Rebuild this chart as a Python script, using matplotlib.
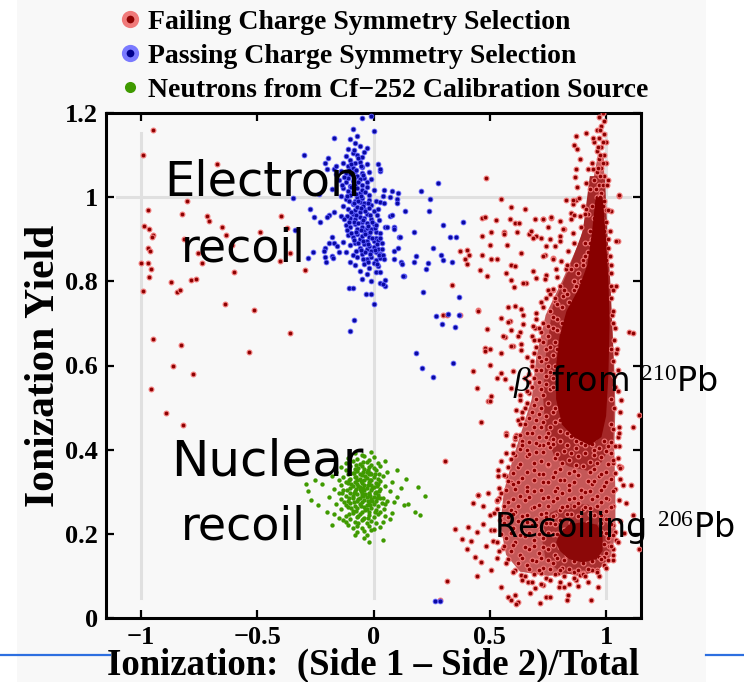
import numpy as np
import matplotlib.pyplot as plt
from matplotlib.lines import Line2D
from matplotlib.patches import Polygon, Rectangle

plt.rcParams['mathtext.fontset'] = 'custom'
plt.rcParams['mathtext.rm'] = 'Liberation Serif'
plt.rcParams['mathtext.it'] = 'Liberation Serif:italic'

SERIF = 'Liberation Serif'
HAND = 'DejaVu Sans'

# --- Achsen / Beschriftung ---
x_ticks = [-1, -0.5, 0, 0.5, 1]
x_ticklabels = ['\u22121', '\u22120.5', '0', '0.5', '1']
y_ticks = [0, 0.2, 0.4, 0.6, 0.8, 1.0, 1.2]
y_ticklabels = ['0', '0.2', '0.4', '0.6', '0.8', '1', '1.2']
grid_x = [-1, 0, 1]
grid_y = [1]

legend_labels = ['Failing Charge Symmetry Selection',
                 'Passing Charge Symmetry Selection',
                 'Neutrons from Cf\u2212252 Calibration Source']

# --- Daten ---
# rote Ausreisser links
red_left = [(-0.950, 1.160), (-0.990, 1.101), (-0.674, 1.079), (-0.803, 0.990), (-0.969, 0.969),
            (-0.824, 0.961), (-0.714, 0.955), (-0.708, 0.943), (-0.399, 0.956), (-0.987, 0.932),
            (-0.963, 0.925), (-0.653, 0.928), (-0.371, 0.926), (-0.949, 0.911), (-0.954, 0.905),
            (-0.633, 0.911), (-0.486, 0.918), (-0.814, 0.900), (-0.969, 0.879), (-0.961, 0.873),
            (-0.607, 0.886), (-0.754, 0.867), (-0.357, 0.867), (-1.000, 0.844), (-0.969, 0.844),
            (-0.736, 0.843), (-0.403, 0.849), (-0.957, 0.829), (-0.598, 0.822), (-0.294, 0.827),
            (-0.966, 0.810), (-0.871, 0.798), (-0.783, 0.802), (-0.764, 0.805), (-0.991, 0.778),
            (-0.846, 0.775), (-0.833, 0.779), (-0.639, 0.746), (-0.514, 0.733), (-0.360, 0.678),
            (-0.947, 0.664), (-0.826, 0.648), (-0.536, 0.633), (-0.860, 0.598), (-0.776, 0.580),
            (-0.957, 0.545), (-0.893, 0.487), (-0.820, 0.458)]

# rote Punkte Mitte / rechts (verstreut)
red_scatter = [(0.483, 1.046), (0.546, 0.995), (0.593, 0.977), (0.653, 0.971), (0.465, 0.951),
               (0.479, 0.952), (0.526, 0.946), (0.586, 0.947), (0.607, 0.938), (0.626, 0.939),
               (0.693, 0.949), (0.729, 0.947), (0.762, 0.951), (0.466, 0.908), (0.507, 0.917),
               (0.562, 0.917), (0.560, 0.912), (0.617, 0.917), (0.667, 0.912), (0.679, 0.920),
               (0.700, 0.908), (0.686, 0.902), (0.721, 0.902), (0.757, 0.900), (0.800, 0.908),
               (0.821, 0.924), (0.800, 0.943), (0.847, 0.962), (0.857, 0.984), (0.871, 0.994),
               (0.371, 0.873), (0.403, 0.875), (0.412, 0.863), (0.393, 0.852), (0.404, 0.842),
               (0.465, 0.863), (0.507, 0.853), (0.531, 0.852), (0.500, 0.887), (0.576, 0.887),
               (0.636, 0.868), (0.457, 0.827), (0.486, 0.813), (0.571, 0.820), (0.593, 0.840),
               (0.607, 0.836), (0.589, 0.804), (0.686, 0.824), (0.657, 0.796), (0.700, 0.808),
               (0.736, 0.862), (0.771, 0.855), (0.743, 0.815), (0.771, 0.779), (0.603, 0.786),
               (0.643, 0.795), (0.336, 0.792), (0.450, 0.732), (0.579, 0.740), (0.610, 0.741),
               (0.550, 0.714), (0.586, 0.706), (0.643, 0.721), (0.700, 0.724), (0.693, 0.690),
               (0.486, 0.686), (0.564, 0.668), (0.600, 0.646), (0.636, 0.652), (0.479, 0.642),
               (0.500, 0.601), (0.550, 0.583), (0.429, 0.588), (0.300, 0.721), (1.100, 0.680),
               (1.050, 0.896), (1.054, 1.003), (0.636, 0.735), (0.450, 0.729), (0.372, 0.721),
               (0.315, 0.721), (0.579, 0.703), (0.643, 0.698), (0.686, 0.694), (0.593, 0.684),
               (0.629, 0.679), (0.557, 0.670), (0.621, 0.670), (0.479, 0.634), (0.547, 0.630),
               (0.593, 0.646), (0.636, 0.638), (0.500, 0.640), (0.529, 0.571), (0.600, 0.587),
               (0.564, 0.567), (0.593, 0.547), (0.445, 0.547), (0.507, 0.527), (0.493, 0.516),
               (0.629, 0.519), (0.614, 0.495), (0.464, 0.465), (0.571, 0.440), (0.614, 0.436),
               (0.571, 0.391), (0.607, 0.388), (0.550, 0.372), (0.307, 0.373), (0.500, 0.515),
               (1.114, 0.678), (1.043, 0.630), (1.036, 0.574), (1.064, 0.519), (1.057, 0.455),
               (1.114, 0.455), (1.057, 0.408), (1.064, 0.360), (1.143, 0.483), (0.571, 0.435),
               (0.536, 0.352), (0.450, 0.293),
               (0.350, 0.211), (0.315, 0.089), (0.286, 0.043), (0.379, 0.188), (0.400, 0.163),
               (0.407, 0.217), (0.429, 0.273), (0.421, 0.182), (0.443, 0.205), (0.436, 0.146),
               (0.443, 0.100), (0.450, 0.293), (0.469, 0.265), (0.471, 0.224), (0.483, 0.171),
               (0.464, 0.134), (0.493, 0.297), (0.500, 0.245), (0.507, 0.210), (0.514, 0.182),
               (0.507, 0.114), (0.529, 0.142), (0.546, 0.074), (0.536, 0.338), (0.529, 0.277),
               (0.543, 0.233), (0.557, 0.166), (0.579, 0.051), (0.593, 0.043), (0.607, 0.055),
               (0.621, 0.039), (0.611, 0.033), (0.593, 0.324), (0.589, 0.257), (0.636, 0.102),
               (0.671, 0.059), (0.693, 0.071), (0.714, 0.035), (0.664, 0.086), (0.721, 0.106),
               (0.729, 0.079), (0.743, 0.051), (0.757, 0.049), (0.793, 0.106), (0.797, 0.073),
               (0.821, 0.074), (0.836, 0.055), (0.833, 0.043), (0.871, 0.090), (0.886, 0.102),
               (0.900, 0.106), (0.936, 0.043), (0.964, 0.074), (0.993, 0.144), (1.029, 0.138),
               (1.014, 0.170), (1.043, 0.186), (1.079, 0.203), (1.114, 0.245), (1.086, 0.273),
               (1.071, 0.317), (1.107, 0.317), (1.143, 0.163), (1.057, 0.361), (1.029, 0.369)]

# Saeule bei x ~ 1 (oben)
red_spine = [(0.986, 1.200), (0.970, 1.190), (0.990, 1.180), (0.980, 1.170), (0.960, 1.160),
             (0.990, 1.150), (0.970, 1.140), (0.950, 1.130), (0.980, 1.120), (1.000, 1.130),
             (0.960, 1.110), (0.990, 1.100), (0.970, 1.090), (0.940, 1.080), (0.980, 1.070),
             (1.000, 1.080), (0.960, 1.060), (0.990, 1.050), (0.950, 1.040), (0.970, 1.030),
             (1.010, 1.040), (0.930, 1.020), (0.980, 1.010), (0.960, 1.000), (0.990, 0.990),
             (0.940, 0.980), (0.970, 0.970), (1.000, 0.970), (0.920, 0.960), (0.950, 0.950),
             (0.980, 0.950), (0.960, 0.930), (0.990, 0.920), (0.930, 0.920), (0.970, 0.910),
             (1.010, 0.900), (0.940, 0.900), (0.910, 0.890), (0.980, 0.890), (0.960, 0.880),
             (0.990, 0.870), (0.920, 0.870), (0.950, 0.860), (0.970, 0.850), (0.900, 0.850),
             (1.000, 0.850), (0.975, 1.160), (0.985, 1.130), (0.965, 1.120), (0.975, 1.100),
             (0.985, 1.080), (0.965, 1.070), (0.975, 1.050), (0.985, 1.030), (0.955, 1.020),
             (0.975, 1.000), (0.985, 0.980), (0.965, 0.960), (0.975, 0.940), (0.955, 0.910),
             (0.985, 0.900), (0.965, 0.890), (0.945, 0.880), (0.975, 0.870),
             (0.872, 1.146), (0.912, 1.153), (0.864, 1.124), (0.874, 1.114), (0.886, 1.090),
             (0.943, 1.140), (0.869, 1.068), (0.867, 1.047), (0.922, 1.068), (0.943, 1.067),
             (0.874, 1.023), (0.914, 1.033), (1.057, 1.005), (0.829, 0.993), (0.857, 0.993),
             (0.883, 0.997), (0.900, 0.979), (0.914, 0.971), (0.864, 0.957), (0.850, 0.948),
             (0.886, 0.956), (0.764, 0.952), (0.729, 0.948), (0.750, 0.928), (0.814, 0.924),
             (0.857, 0.914), (1.021, 0.967), (1.043, 0.896), (0.800, 0.896), (0.779, 0.884),
             (0.743, 0.884), (0.836, 0.872), (1.043, 0.788), (0.771, 0.852), (0.807, 0.848),
             (0.729, 0.860), (0.786, 0.829), (0.829, 0.829), (0.736, 0.805), (0.771, 0.781),
             (0.814, 0.765), (0.743, 0.761), (0.779, 0.753)]

# mittlere Dichte: Flanke, Bereich zwischen den Kernen, um den unteren Kern
red_dense = [(0.80, 0.79), (0.83, 0.77), (0.78, 0.76), (0.86, 0.80), (0.81, 0.74), (0.76, 0.73),
             (0.84, 0.72), (0.79, 0.71), (0.73, 0.70), (0.77, 0.69), (0.81, 0.68), (0.75, 0.67),
             (0.71, 0.66), (0.78, 0.655), (0.74, 0.64), (0.69, 0.63), (0.77, 0.625), (0.72, 0.61),
             (0.75, 0.60), (0.70, 0.59), (0.67, 0.58), (0.74, 0.575), (0.77, 0.57), (0.71, 0.56),
             (0.68, 0.55), (0.76, 0.545), (0.73, 0.53), (0.70, 0.52), (0.66, 0.51), (0.75, 0.51),
             (0.72, 0.50), (0.68, 0.49), (0.77, 0.49), (0.74, 0.48), (0.70, 0.47), (0.65, 0.46),
             (0.78, 0.465), (0.72, 0.455), (0.68, 0.44), (0.75, 0.44), (0.80, 0.445), (0.71, 0.43),
             (0.64, 0.42), (0.77, 0.425), (0.73, 0.41), (0.66, 0.40), (0.62, 0.47), (0.63, 0.53),
             (0.65, 0.57), (0.66, 0.62), (0.68, 0.67), (0.70, 0.71), (0.72, 0.75), (0.75, 0.78),
             (0.88, 0.82), (0.90, 0.84), (0.86, 0.78), (0.91, 0.86), (0.89, 0.80), (0.93, 0.89),
             (0.87, 0.84), (0.92, 0.81), (0.94, 0.85), (0.90, 0.78), (0.85, 0.83), (0.93, 0.77),
             (0.88, 0.76), (0.95, 0.80),
             (0.61, 0.425), (0.67, 0.418), (0.74, 0.430), (0.80, 0.421), (0.85, 0.432), (0.89, 0.415),
             (0.95, 0.427), (1.02, 0.419), (1.05, 0.431), (0.63, 0.402), (0.70, 0.395), (0.76, 0.407),
             (0.82, 0.398), (0.87, 0.405), (0.91, 0.392), (0.97, 0.403), (1.00, 0.396), (1.04, 0.408),
             (0.59, 0.378), (0.66, 0.384), (0.72, 0.372), (0.78, 0.381), (0.84, 0.376), (0.88, 0.386),
             (0.93, 0.370), (0.98, 0.383), (1.03, 0.375), (0.62, 0.358), (0.69, 0.352), (0.75, 0.363),
             (0.80, 0.355), (0.86, 0.349), (0.90, 0.361), (0.95, 0.354), (1.00, 0.346), (1.06, 0.357),
             (0.57, 0.338), (0.64, 0.332), (0.71, 0.341), (0.77, 0.335), (0.82, 0.328), (0.88, 0.339),
             (0.92, 0.326), (0.97, 0.337), (1.02, 0.331), (0.60, 0.318), (0.66, 0.311), (0.73, 0.322),
             (0.79, 0.308), (0.84, 0.316), (0.89, 0.305), (0.94, 0.319), (0.99, 0.313), (1.04, 0.307),
             (0.55, 0.298), (0.63, 0.291), (0.69, 0.302), (0.75, 0.288), (0.81, 0.296), (0.86, 0.284),
             (0.91, 0.299), (0.96, 0.290), (1.01, 0.282), (0.58, 0.275), (0.65, 0.281), (0.71, 0.268),
             (0.77, 0.277), (0.83, 0.265), (0.88, 0.273), (0.93, 0.262), (0.98, 0.276), (1.03, 0.266),
             (0.53, 0.258), (0.61, 0.252), (0.68, 0.261), (0.74, 0.249), (0.80, 0.256), (0.85, 0.247),
             (0.90, 0.259), (0.95, 0.245), (1.00, 0.254),
             (0.58, 0.24), (0.62, 0.23), (0.66, 0.245), (0.70, 0.235), (0.74, 0.24), (0.78, 0.245),
             (0.60, 0.215), (0.64, 0.205), (0.68, 0.22), (0.72, 0.21), (0.76, 0.225), (0.80, 0.232),
             (1.00, 0.235), (1.03, 0.22), (0.57, 0.19), (0.61, 0.18), (0.65, 0.195), (0.69, 0.185),
             (0.73, 0.19), (0.77, 0.20), (1.01, 0.19), (1.04, 0.205), (0.59, 0.16), (0.63, 0.15),
             (0.67, 0.165), (0.71, 0.155), (0.75, 0.165), (0.78, 0.15), (1.00, 0.155), (1.03, 0.165),
             (0.62, 0.13), (0.66, 0.125), (0.70, 0.135), (0.73, 0.12), (0.77, 0.13), (0.81, 0.12),
             (0.99, 0.125), (0.65, 0.10), (0.69, 0.105), (0.74, 0.095), (0.78, 0.105), (0.82, 0.10),
             (0.86, 0.11), (0.90, 0.105), (0.94, 0.115), (0.97, 0.10), (0.84, 0.08), (0.88, 0.075),
             (0.92, 0.085), (0.80, 0.085),
             (0.82, 0.21), (0.85, 0.225), (0.88, 0.215), (0.92, 0.225), (0.95, 0.215), (0.98, 0.205),
             (0.81, 0.175), (0.83, 0.15), (0.86, 0.135), (0.90, 0.13), (0.94, 0.135), (0.97, 0.145),
             (0.99, 0.175),
             (0.78, 0.50), (0.77, 0.55), (0.78, 0.60), (0.79, 0.64), (0.81, 0.70), (0.84, 0.75),
             (0.87, 0.79), (0.80, 0.47), (0.83, 0.44), (0.87, 0.42), (0.91, 0.41), (0.95, 0.40),
             (0.99, 0.42), (1.02, 0.46), (1.02, 0.52), (1.03, 0.58), (1.02, 0.64), (1.03, 0.70),
             (1.02, 0.76), (1.02, 0.82), (1.01, 0.88), (1.00, 0.94)]

# zweite Lage im mittleren Bereich (versetzt)
red_dense2 = [(0.64, 0.412), (0.71, 0.410), (0.77, 0.414), (0.83, 0.411), (0.94, 0.413), (1.01, 0.409),
              (0.60, 0.392), (0.67, 0.389), (0.73, 0.394), (0.79, 0.390), (0.85, 0.391), (0.95, 0.388),
              (1.02, 0.393), (0.63, 0.367), (0.69, 0.369), (0.75, 0.365), (0.81, 0.368), (0.87, 0.364),
              (0.96, 0.368), (1.01, 0.366), (0.60, 0.345), (0.66, 0.347), (0.73, 0.343), (0.78, 0.346),
              (0.84, 0.344), (0.93, 0.347), (0.98, 0.343), (1.04, 0.345), (0.58, 0.326), (0.62, 0.323),
              (0.69, 0.327), (0.75, 0.324), (0.80, 0.327), (0.86, 0.322), (0.95, 0.326), (1.00, 0.324),
              (0.57, 0.303), (0.61, 0.306), (0.66, 0.301), (0.72, 0.305), (0.78, 0.302), (0.84, 0.304),
              (0.93, 0.302), (0.98, 0.305), (1.03, 0.301), (0.54, 0.285), (0.60, 0.283), (0.67, 0.287),
              (0.73, 0.284), (0.79, 0.286), (0.84, 0.283), (0.89, 0.287), (0.94, 0.283), (1.00, 0.286),
              (0.56, 0.265), (0.62, 0.267), (0.69, 0.263), (0.75, 0.266), (0.81, 0.264), (0.86, 0.266),
              (0.91, 0.263), (0.96, 0.266), (1.02, 0.264), (0.55, 0.245), (0.60, 0.247), (0.64, 0.243),
              (0.72, 0.246), (0.77, 0.243), (0.83, 0.246), (0.88, 0.243), (0.93, 0.247), (0.98, 0.244),
              (0.56, 0.225), (0.66, 0.227), (0.70, 0.222), (0.74, 0.226), (0.78, 0.223), (0.98, 0.226),
              (1.02, 0.223), (0.55, 0.200), (0.59, 0.203), (0.63, 0.198), (0.67, 0.202), (0.71, 0.199),
              (0.75, 0.203), (0.79, 0.200), (1.00, 0.202), (1.03, 0.198), (0.56, 0.170), (0.60, 0.173),
              (0.65, 0.168), (0.69, 0.172), (0.73, 0.169), (0.77, 0.173), (0.80, 0.169), (1.02, 0.172),
              (0.58, 0.140), (0.64, 0.143), (0.68, 0.139), (0.72, 0.142), (0.75, 0.138), (0.79, 0.142),
              (0.82, 0.139), (0.98, 0.141), (1.01, 0.138), (0.61, 0.115), (0.67, 0.117), (0.71, 0.113),
              (0.76, 0.116), (0.80, 0.114), (0.84, 0.117), (0.88, 0.113), (0.92, 0.116), (0.96, 0.114),
              (0.82, 0.780), (0.79, 0.745), (0.77, 0.715), (0.75, 0.695), (0.72, 0.680), (0.79, 0.685),
              (0.73, 0.655), (0.76, 0.645), (0.70, 0.645), (0.71, 0.620), (0.74, 0.615), (0.68, 0.610),
              (0.72, 0.590), (0.76, 0.585), (0.69, 0.570), (0.72, 0.545), (0.74, 0.555), (0.67, 0.535),
              (0.69, 0.505), (0.71, 0.485), (0.67, 0.475), (0.73, 0.465), (0.69, 0.455), (0.76, 0.455),
              (0.66, 0.440), (0.63, 0.435), (0.70, 0.415), (0.75, 0.415), (0.65, 0.500), (0.64, 0.475),
              (1.03, 0.450), (1.035, 0.500), (1.04, 0.550), (1.03, 0.610), (1.035, 0.660), (1.025, 0.720),
              (1.02, 0.790), (1.015, 0.860)]

# Rand der roten Wolke
red_fringe = [(0.91, 0.96), (0.89, 0.93), (0.86, 0.89), (0.83, 0.84), (0.79, 0.81), (0.76, 0.77),
              (0.73, 0.74), (0.71, 0.69), (0.69, 0.66), (0.68, 0.60), (0.67, 0.56), (0.66, 0.54),
              (0.64, 0.49), (0.63, 0.46), (0.61, 0.43), (0.60, 0.41), (0.58, 0.36), (0.56, 0.34),
              (0.54, 0.31), (0.53, 0.28), (0.52, 0.25), (0.52, 0.21), (0.53, 0.18), (0.54, 0.16),
              (0.57, 0.13), (0.60, 0.11), (0.64, 0.09), (0.68, 0.085), (0.72, 0.08), (0.76, 0.09),
              (0.86, 0.095), (0.91, 0.10), (0.96, 0.11), (1.00, 0.12), (1.03, 0.15), (1.05, 0.18),
              (1.06, 0.23), (1.055, 0.28), (1.06, 0.33), (1.05, 0.38), (1.055, 0.44), (1.06, 0.49),
              (1.05, 0.54), (1.05, 0.59), (1.045, 0.64), (1.04, 0.69), (1.03, 0.73), (1.03, 0.78),
              (1.02, 0.84), (1.015, 0.92), (1.01, 0.97), (1.005, 1.03)]

# Umrisse der Bereiche, in denen sich die roten Punkte ueberdecken
red_cloud_outline = [(0.93, 1.00), (0.89, 0.90), (0.81, 0.80), (0.74, 0.72), (0.70, 0.62),
                     (0.68, 0.52), (0.64, 0.45), (0.60, 0.38), (0.56, 0.30), (0.545, 0.22),
                     (0.57, 0.15), (0.63, 0.11), (0.75, 0.10), (0.85, 0.105), (0.95, 0.115),
                     (1.02, 0.145), (1.04, 0.20), (1.04, 0.30), (1.035, 0.40), (1.04, 0.50),
                     (1.035, 0.60), (1.025, 0.70), (1.015, 0.80), (1.005, 0.90), (0.995, 1.00),
                     (0.99, 1.10), (0.965, 1.10)]
red_mid_outline = [(0.93, 1.05), (0.90, 0.92), (0.84, 0.83), (0.77, 0.74), (0.74, 0.62),
                   (0.73, 0.52), (0.74, 0.44), (0.78, 0.38), (0.84, 0.36), (0.92, 0.35),
                   (0.98, 0.37), (1.03, 0.42), (1.035, 0.52), (1.03, 0.65), (1.02, 0.78),
                   (1.005, 0.92), (0.995, 1.05)]
red_low_outline = [(0.72, 0.20), (0.76, 0.25), (0.84, 0.27), (0.92, 0.27), (0.99, 0.25),
                   (1.02, 0.20), (1.01, 0.14), (0.96, 0.11), (0.88, 0.10), (0.80, 0.11),
                   (0.74, 0.14)]
red_core_outline = [(0.955, 1.00), (0.985, 1.00), (1.00, 0.90), (1.01, 0.80), (1.015, 0.70),
                    (1.01, 0.58), (1.00, 0.48), (0.98, 0.43), (0.93, 0.41), (0.86, 0.43),
                    (0.81, 0.46), (0.785, 0.52), (0.785, 0.60), (0.80, 0.67), (0.83, 0.73),
                    (0.88, 0.78), (0.92, 0.84), (0.94, 0.92)]
red_blob_outline = [(0.80, 0.20), (0.84, 0.222), (0.90, 0.228), (0.96, 0.222), (0.985, 0.20),
                    (0.985, 0.16), (0.96, 0.14), (0.90, 0.132), (0.84, 0.14), (0.80, 0.16),
                    (0.785, 0.18)]

blue_core = [(-0.05, 1.188), (-0.01, 1.192), (0.00, 1.158), (-0.09, 1.163), (-0.07, 1.145),
             (-0.10, 1.138), (-0.08, 1.128), (-0.06, 1.122), (-0.03, 1.118), (-0.11, 1.115),
             (-0.09, 1.104), (-0.12, 1.097), (-0.07, 1.100), (-0.05, 1.096), (-0.04, 1.108),
             (-0.10, 1.088), (-0.13, 1.082), (-0.08, 1.080), (-0.06, 1.084), (-0.11, 1.073),
             (-0.09, 1.069), (-0.05, 1.071), (-0.03, 1.078), (-0.14, 1.062), (-0.12, 1.058),
             (-0.10, 1.055), (-0.08, 1.061), (-0.07, 1.050), (-0.05, 1.057), (-0.04, 1.046),
             (-0.02, 1.060), (-0.15, 1.041), (-0.12, 1.036), (-0.11, 1.045), (-0.09, 1.039),
             (-0.08, 1.031), (-0.06, 1.043), (-0.05, 1.028), (-0.03, 1.037), (-0.01, 1.042),
             (-0.13, 1.021), (-0.11, 1.015), (-0.10, 1.026), (-0.09, 1.012), (-0.07, 1.022),
             (-0.06, 1.010), (-0.05, 1.018), (-0.03, 1.024), (-0.02, 1.006), (0.00, 1.016),
             (-0.14, 1.002), (-0.12, 0.996), (-0.10, 1.004), (-0.08, 0.992), (-0.07, 1.001),
             (-0.06, 0.988), (-0.05, 0.998), (-0.04, 0.985), (-0.02, 0.994), (-0.01, 0.981),
             (0.01, 0.990), (-0.13, 0.978), (-0.11, 0.972), (-0.09, 0.983), (-0.08, 0.969),
             (-0.07, 0.976), (-0.06, 0.965), (-0.04, 0.972), (-0.03, 0.961), (-0.02, 0.975),
             (0.00, 0.967), (0.02, 0.972), (-0.14, 0.955), (-0.10, 0.951), (-0.09, 0.960),
             (-0.08, 0.947), (-0.06, 0.954), (-0.05, 0.942), (-0.04, 0.951), (-0.03, 0.938),
             (-0.01, 0.949), (0.00, 0.936), (-0.12, 0.934), (-0.10, 0.928), (-0.08, 0.937),
             (-0.07, 0.924), (-0.05, 0.930), (-0.04, 0.919), (-0.03, 0.927), (-0.02, 0.914),
             (-0.01, 0.925), (0.01, 0.917), (-0.11, 0.911), (-0.09, 0.905), (-0.07, 0.913),
             (-0.06, 0.900), (-0.05, 0.908), (-0.03, 0.897), (-0.02, 0.906), (0.00, 0.895),
             (0.01, 0.904), (0.02, 0.899), (-0.13, 0.893), (-0.10, 0.886), (-0.08, 0.890),
             (-0.06, 0.880), (-0.04, 0.888), (-0.03, 0.877), (-0.02, 0.884), (-0.01, 0.872),
             (0.00, 0.881), (0.01, 0.869), (0.02, 0.878), (0.03, 0.866), (-0.12, 0.870),
             (-0.09, 0.862), (-0.07, 0.857), (-0.05, 0.865), (-0.03, 0.852), (-0.01, 0.859),
             (0.01, 0.850), (0.03, 0.856), (-0.10, 0.845), (-0.08, 0.838), (-0.04, 0.841),
             (-0.02, 0.832), (0.00, 0.844), (0.02, 0.836), (-0.06, 0.824), (-0.03, 0.818),
             (0.01, 0.822), (-0.05, 0.805), (-0.01, 0.800), (0.03, 0.797), (0.05, 0.803),
             (-0.075, 1.065), (-0.055, 1.075), (-0.085, 1.045), (-0.065, 1.035), (-0.045, 1.052),
             (-0.095, 1.025), (-0.035, 1.012), (-0.075, 1.008), (-0.055, 1.002), (-0.085, 0.985),
             (-0.065, 0.992), (-0.045, 0.978), (-0.025, 0.985), (-0.095, 0.965), (-0.075, 0.958),
             (-0.055, 0.975), (-0.035, 0.968), (-0.015, 0.958), (-0.085, 0.942), (-0.065, 0.938),
             (-0.045, 0.945), (-0.025, 0.932), (-0.005, 0.941), (-0.075, 0.918), (-0.055, 0.921),
             (-0.035, 0.912), (-0.015, 0.918), (0.005, 0.926), (-0.085, 0.898), (-0.045, 0.895),
             (-0.025, 0.889), (-0.005, 0.902), (0.015, 0.888), (-0.065, 0.891), (-0.035, 0.869),
             (-0.015, 0.864), (0.005, 0.874), (0.025, 0.862), (-0.055, 0.874), (-0.075, 0.873),
             (-0.045, 0.852), (-0.025, 0.846), (0.015, 0.842), (-0.105, 0.992), (-0.115, 1.002),
             (-0.095, 1.078), (-0.065, 1.092), (-0.085, 1.112), (-0.105, 1.065), (-0.125, 1.048),
             (-0.135, 1.030), (-0.115, 0.955), (-0.105, 0.942), (-0.125, 0.948), (-0.095, 0.915),
             (-0.115, 0.922), (0.015, 0.958), (0.025, 0.945), (0.035, 0.878), (0.012, 0.935)]

blue_scatter = [(-0.17, 1.140), (-0.21, 1.080), (-0.20, 1.068), (-0.17, 1.066), (-0.16, 1.055),
                (-0.18, 1.020), (-0.19, 0.958), (-0.20, 0.952), (-0.17, 0.965), (-0.18, 0.905),
                (-0.19, 0.890), (-0.17, 0.890), (-0.21, 0.880), (-0.21, 0.857), (-0.18, 0.860),
                (-0.15, 0.870), (0.02, 1.079), (0.03, 1.063), (0.04, 1.002), (0.07, 1.000),
                (0.10, 0.996), (0.03, 0.988), (0.07, 0.955), (0.05, 0.930), (0.09, 0.930),
                (0.11, 0.906), (0.03, 0.915), (0.03, 0.902), (0.09, 0.871), (0.04, 0.862),
                (0.12, 0.846), (0.03, 0.822), (0.05, 0.790), (0.13, 0.813),
                (-0.107, 0.783), (-0.086, 0.783), (-0.084, 0.708), (-0.101, 0.682), (-0.031, 0.771),
                (-0.010, 0.771), (0.003, 0.747), (-0.300, 1.100), (-0.194, 1.094), (-0.345, 0.997),
                (-0.271, 0.971), (-0.254, 0.952), (-0.228, 0.941), (-0.337, 0.922), (-0.283, 0.855),
                (-0.211, 0.872), (-0.204, 0.847), (-0.173, 0.856), (-0.157, 0.884), (-0.260, 0.870),
                (-0.163, 1.075), (-0.234, 1.007),
                (0.029, 1.067), (0.043, 1.017), (0.079, 1.015), (0.107, 1.011), (0.203, 1.015),
                (0.276, 1.033), (0.046, 0.987), (0.100, 0.987), (0.243, 0.995), (0.136, 0.966),
                (0.079, 0.957), (0.240, 0.966), (0.060, 0.930), (0.089, 0.924), (0.176, 0.917),
                (0.300, 0.934), (0.383, 0.941), (0.114, 0.906), (0.329, 0.906), (0.354, 0.906),
                (0.036, 0.892), (0.107, 0.879), (0.255, 0.879), (0.046, 0.854), (0.086, 0.852),
                (0.183, 0.860), (0.290, 0.863), (0.300, 0.850), (0.123, 0.842), (0.176, 0.846),
                (0.236, 0.844), (0.336, 0.847), (0.225, 0.829), (0.126, 0.813), (0.040, 0.794),
                (0.214, 0.775), (0.367, 0.763), (0.319, 0.723), (0.369, 0.719), (0.269, 0.717),
                (0.293, 0.698), (0.352, 0.691), (0.183, 0.629), (0.343, 0.606), (0.207, 0.594),
                (0.257, 0.572), (0.264, 0.041), (0.286, 0.041)]

green = [(-0.08, 0.392), (-0.05, 0.388), (-0.01, 0.394), (-0.11, 0.381), (-0.07, 0.377),
         (-0.04, 0.384), (-0.02, 0.376), (0.00, 0.382), (-0.12, 0.368), (-0.09, 0.372),
         (-0.06, 0.366), (-0.03, 0.371), (-0.01, 0.364), (0.02, 0.369), (0.05, 0.373),
         (-0.14, 0.358), (-0.10, 0.361), (-0.08, 0.355), (-0.05, 0.362), (-0.04, 0.353),
         (-0.02, 0.359), (0.00, 0.356), (0.03, 0.362), (-0.16, 0.347), (-0.12, 0.351),
         (-0.09, 0.344), (-0.07, 0.350), (-0.06, 0.342), (-0.03, 0.348), (-0.01, 0.341),
         (0.01, 0.352), (0.06, 0.346), (0.10, 0.351), (-0.18, 0.338), (-0.13, 0.334),
         (-0.11, 0.341), (-0.08, 0.336), (-0.06, 0.331), (-0.05, 0.339), (-0.03, 0.333),
         (-0.02, 0.342), (0.00, 0.335), (0.02, 0.331), (0.04, 0.338), (-0.15, 0.327),
         (-0.12, 0.324), (-0.10, 0.331), (-0.08, 0.322), (-0.07, 0.328), (-0.05, 0.321),
         (-0.04, 0.327), (-0.02, 0.323), (-0.01, 0.329), (0.01, 0.321), (0.03, 0.326),
         (0.08, 0.323), (-0.22, 0.318), (-0.14, 0.316), (-0.11, 0.321), (-0.09, 0.313),
         (-0.07, 0.318), (-0.06, 0.311), (-0.04, 0.316), (-0.03, 0.309), (-0.01, 0.317),
         (0.00, 0.311), (0.02, 0.318), (0.05, 0.314), (-0.17, 0.307), (-0.13, 0.303),
         (-0.10, 0.309), (-0.08, 0.301), (-0.06, 0.306), (-0.05, 0.298), (-0.04, 0.304),
         (-0.02, 0.297), (-0.01, 0.305), (0.01, 0.299), (0.03, 0.306), (0.07, 0.302),
         (0.12, 0.308), (-0.28, 0.302), (-0.15, 0.296), (-0.12, 0.291), (-0.10, 0.298),
         (-0.09, 0.289), (-0.07, 0.294), (-0.06, 0.286), (-0.05, 0.293), (-0.03, 0.288),
         (-0.02, 0.295), (0.00, 0.287), (0.02, 0.292), (0.04, 0.285), (-0.19, 0.287),
         (-0.14, 0.282), (-0.11, 0.277), (-0.09, 0.284), (-0.07, 0.279), (-0.05, 0.275),
         (-0.04, 0.281), (-0.02, 0.276), (-0.01, 0.283), (0.01, 0.278), (0.03, 0.284),
         (0.06, 0.279), (0.10, 0.288), (-0.16, 0.272), (-0.12, 0.268), (-0.10, 0.274),
         (-0.08, 0.266), (-0.06, 0.271), (-0.04, 0.263), (-0.03, 0.269), (-0.01, 0.262),
         (0.00, 0.272), (0.02, 0.265), (0.05, 0.271), (0.09, 0.276), (-0.24, 0.268),
         (-0.14, 0.258), (-0.11, 0.264), (-0.09, 0.255), (-0.07, 0.261), (-0.05, 0.253),
         (-0.03, 0.258), (-0.02, 0.251), (0.01, 0.257), (0.03, 0.252), (0.13, 0.268),
         (-0.17, 0.248), (-0.12, 0.243), (-0.09, 0.249), (-0.07, 0.241), (-0.06, 0.247),
         (-0.04, 0.238), (-0.02, 0.245), (0.00, 0.239), (0.02, 0.246), (0.05, 0.242),
         (0.08, 0.249), (-0.20, 0.251), (-0.13, 0.232), (-0.10, 0.236), (-0.08, 0.228),
         (-0.05, 0.233), (-0.03, 0.226), (-0.01, 0.231), (0.01, 0.225), (0.04, 0.229),
         (-0.15, 0.238), (-0.11, 0.221), (-0.07, 0.218), (-0.05, 0.214), (-0.02, 0.219),
         (0.00, 0.212), (0.03, 0.217), (0.07, 0.236), (0.20, 0.244), (-0.12, 0.229),
         (-0.18, 0.222), (-0.09, 0.214), (-0.04, 0.206), (-0.01, 0.209), (-0.07, 0.205),
         (-0.08, 0.198), (-0.03, 0.197), (-0.04, 0.189), (0.04, 0.186), (-0.02, 0.181),
         (0.15, 0.271), (0.18, 0.252), (0.22, 0.289), (0.19, 0.311), (-0.25, 0.329),
         (-0.27, 0.281), (0.14, 0.331), (-0.29, 0.318),
         (-0.085, 0.345), (-0.065, 0.356), (-0.045, 0.348), (-0.025, 0.352), (-0.075, 0.334),
         (-0.055, 0.326), (-0.035, 0.337), (-0.015, 0.328), (0.005, 0.343), (-0.095, 0.318),
         (-0.065, 0.314), (-0.045, 0.309), (-0.025, 0.316), (-0.005, 0.309), (0.015, 0.313),
         (-0.085, 0.296), (-0.075, 0.307), (-0.055, 0.301), (-0.035, 0.295), (-0.015, 0.291),
         (0.005, 0.298), (-0.105, 0.285), (-0.085, 0.276), (-0.065, 0.283), (-0.045, 0.289),
         (-0.025, 0.279), (-0.005, 0.277), (0.015, 0.286), (-0.095, 0.262), (-0.075, 0.255),
         (-0.055, 0.266), (-0.035, 0.257), (-0.015, 0.268), (0.005, 0.251), (-0.065, 0.243),
         (-0.045, 0.235), (-0.025, 0.238), (-0.115, 0.305), (-0.105, 0.327), (0.025, 0.302),
         (0.035, 0.274), (-0.125, 0.276), (-0.045, 0.371), (-0.075, 0.363), (-0.015, 0.344),
         (0.025, 0.342), (-0.135, 0.296), (-0.105, 0.247), (0.045, 0.259), (-0.065, 0.226)]

fig = plt.figure(figsize=(7.44, 6.82), dpi=100)
fig.patch.set_facecolor('white')
fig.add_artist(Rectangle((17 / 744, 0), (706 - 17) / 744, 1, transform=fig.transFigure,
                         facecolor='#f8f8f8', edgecolor='none', zorder=-10))

ax = fig.add_axes([106 / 744, 64 / 682, 535 / 744, 505 / 682])
ax.set_facecolor('#f8f8f8')
ax.set_xlim(-1.15, 1.15)
ax.set_ylim(0, 1.2)

# Gitterlinien (nicht ueber die volle Breite)
for gx in grid_x:
    ax.axvline(gx, ymin=0.04, ymax=0.96, color='#e0e0e0', lw=2.2, zorder=0)
for gy in grid_y:
    ax.axhline(gy, xmin=0.02, xmax=0.98, color='#e0e0e0', lw=2.2, zorder=0)

# dichte Bereiche der roten Wolke (Punkte ueberdecken sich dort)
ax.add_patch(Polygon(red_cloud_outline, closed=True, facecolor='#c45858', edgecolor='none', zorder=1))
ax.add_patch(Polygon(red_mid_outline, closed=True, facecolor='#a42828', edgecolor='none', zorder=2))
ax.add_patch(Polygon(red_low_outline, closed=True, facecolor='#a83030', edgecolor='none', zorder=2))
ax.add_patch(Polygon(red_core_outline, closed=True, facecolor='#880000', edgecolor='none', zorder=4))
ax.add_patch(Polygon(red_blob_outline, closed=True, facecolor='#8c0808', edgecolor='none', zorder=4))

red_kw = dict(s=12, c='#8b0000', edgecolors='#f27c7c', linewidths=0.8, zorder=3)
for pts in [red_left, red_scatter, red_spine, red_dense, red_dense2, red_fringe]:
    p = np.array(pts)
    ax.scatter(p[:, 0], p[:, 1], **red_kw)

b = np.array(blue_core + blue_scatter)
ax.scatter(b[:, 0], b[:, 1], s=12, c='#0a0aa0', edgecolors='#6060ff', linewidths=0.6, zorder=3)
g = np.array(green)
ax.scatter(g[:, 0], g[:, 1], s=10, c='#3f9a00', linewidths=0, zorder=3)

# Achsen-Stil
for sp in ax.spines.values():
    sp.set_linewidth(2.2)
ax.set_xticks(x_ticks)
ax.set_xticklabels(x_ticklabels)
ax.set_yticks(y_ticks)
ax.set_yticklabels(y_ticklabels)
ax.tick_params(direction='in', length=6, width=1.6, top=True, right=True, pad=6)
for lab in ax.get_xticklabels() + ax.get_yticklabels():
    lab.set_fontfamily(SERIF)
    lab.set_fontweight('bold')
    lab.set_fontsize(19)

ax.set_xlabel('Ionization:  (Side 1 \u2013 Side 2)/Total', family=SERIF, weight='bold',
              fontsize=26.5, labelpad=-1)
ax.set_ylabel('Ionization Yield', family=SERIF, weight='bold', fontsize=30, labelpad=1)

# Beschriftungen im Plot
hand = dict(family=HAND, color='black', zorder=10, ha='center', va='center')
ax.text(-0.476, 1.036, 'Electron', fontsize=34.5, **hand)
ax.text(-0.558, 0.876, 'recoil', fontsize=33, **hand)
ax.text(-0.455, 0.371, 'Nuclear', fontsize=36, **hand)
ax.text(-0.558, 0.217, 'recoil', fontsize=33, **hand)
ax.text(0.60, 0.538, r'$\beta$  from $^{210}$Pb', family=HAND, fontsize=24, zorder=10,
        ha='left', va='baseline')
ax.text(0.52, 0.19, r'Recoiling $^{206}$Pb', family=HAND, fontsize=24, zorder=10,
        ha='left', va='baseline')

# Legende oben
handles = [Line2D([], [], ls='none', marker='o', ms=9, mfc='#8b0000', mec='#f07a7a', mew=3.4),
           Line2D([], [], ls='none', marker='o', ms=9, mfc='#00008b', mec='#7a7aff', mew=3.4),
           Line2D([], [], ls='none', marker='o', ms=8, mfc='#3f9a00', mec='#3f9a00', mew=0)]
fig.legend(handles, legend_labels, loc='upper left', bbox_to_anchor=(116 / 744, 1 - 7 / 682),
           frameon=False, prop=dict(family=SERIF, weight='bold', size=20),
           handlelength=0.8, handletextpad=0.25, labelspacing=0.30, borderpad=0.1,
           borderaxespad=0)

# blaue Linie der Folie
fig.add_artist(Line2D([0, 110 / 744], [1 - 655 / 682] * 2, transform=fig.transFigure,
                      color='#2d6fe0', lw=1.6))
fig.add_artist(Line2D([706 / 744, 1], [1 - 655 / 682] * 2, transform=fig.transFigure,
                      color='#2d6fe0', lw=1.6))

fig.savefig('out.png', dpi=100)
